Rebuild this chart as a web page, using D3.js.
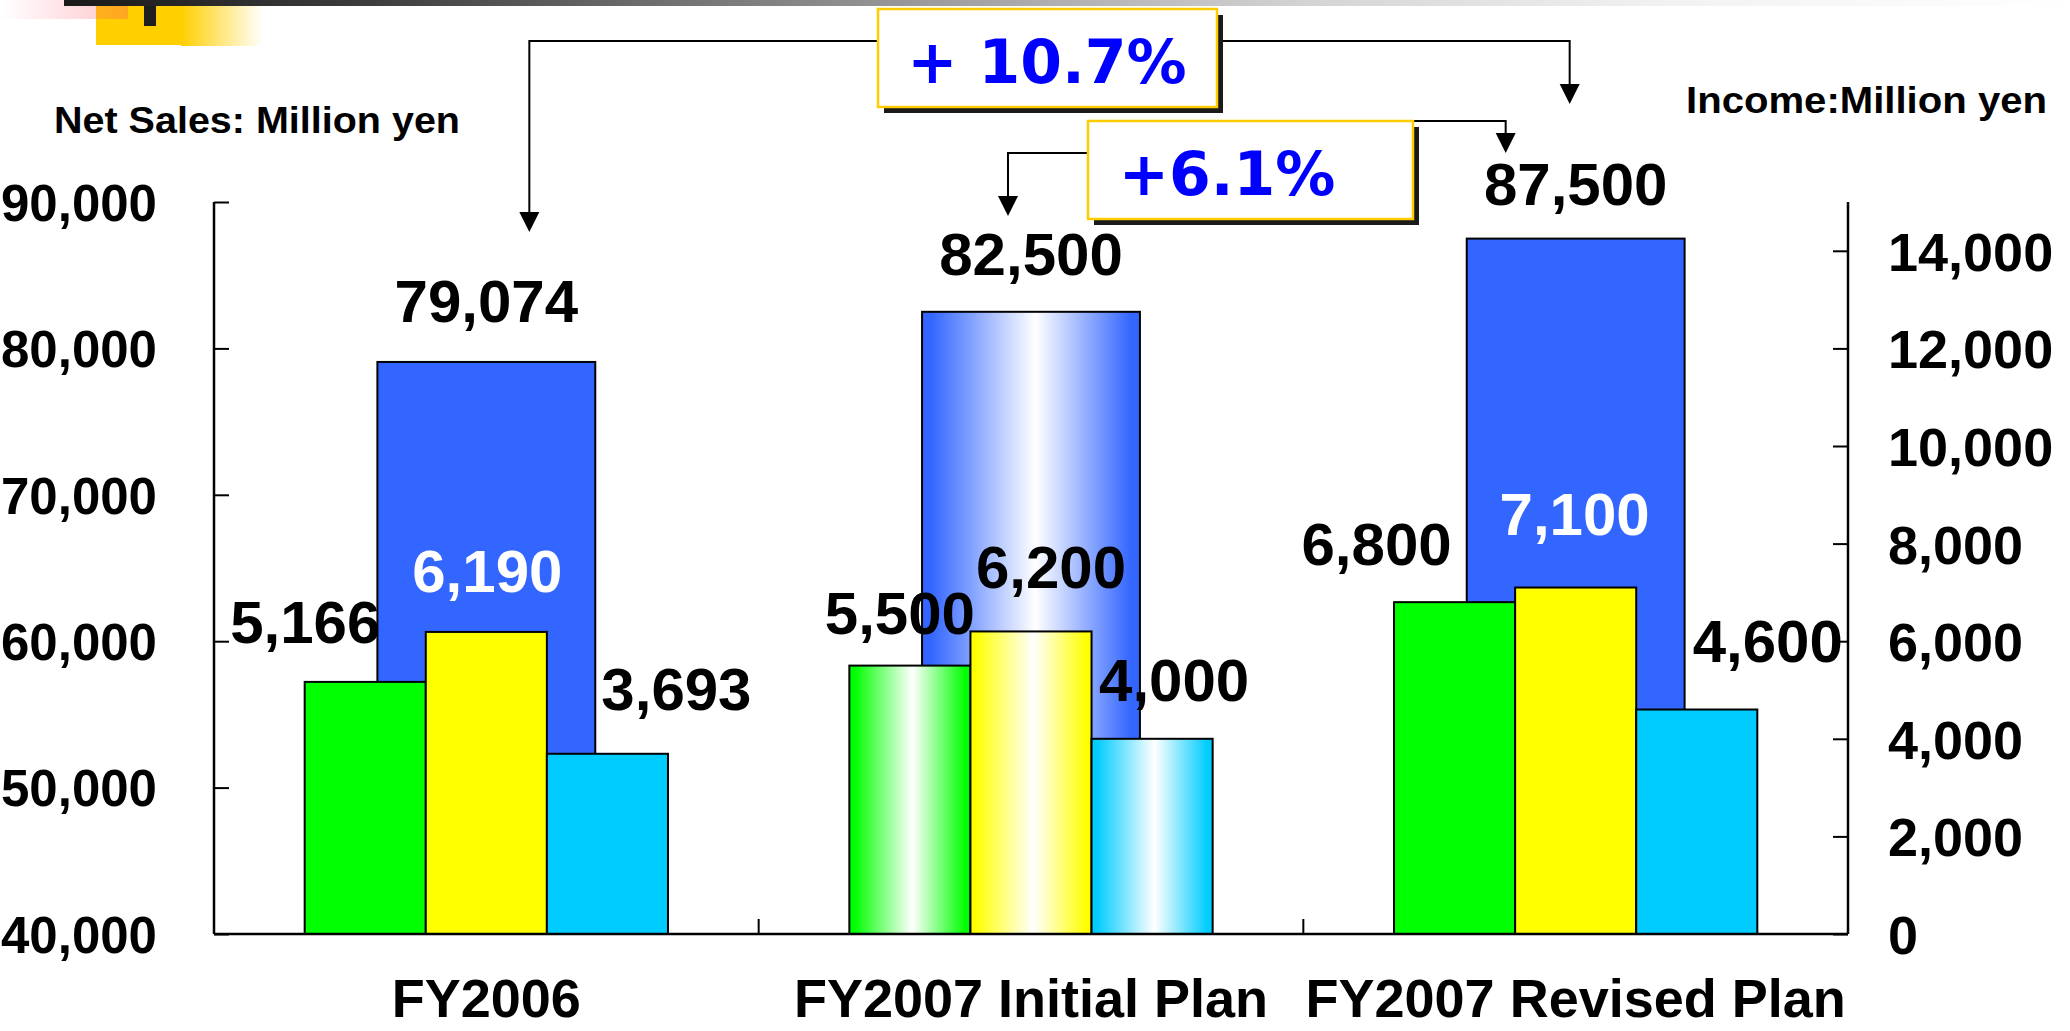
<!DOCTYPE html>
<html>
<head>
<meta charset="utf-8">
<script src="https://cdn.jsdelivr.net/npm/d3@7"></script>
<style>
  html, body { margin: 0; padding: 0; background: #ffffff; overflow: hidden; }
  svg { display: block; }
  text { font-weight: bold; }
</style>
</head>
<body>
<div id="chart"></div>
<script>
// ---------------- DATA ----------------
const categories = ["FY2006", "FY2007 Initial Plan", "FY2007 Revised Plan"];
const netSales = [79074, 82500, 87500];              // left axis (blue bars)
const incomeGreen = [5166, 5500, 6800];              // right axis
const incomeYellow = [6190, 6200, 7100];             // right axis
const incomeCyan = [3693, 4000, 4600];               // right axis
const leftTicks = [40000, 50000, 60000, 70000, 80000, 90000];
const rightTicks = [0, 2000, 4000, 6000, 8000, 10000, 12000, 14000];
const leftTitle = "Net Sales: Million yen";
const rightTitle = "Income:Million yen";
const growthLabels = ["+ 10.7%", "+6.1%"];

// ---------------- LAYOUT ----------------
const W = 2070, H = 1031;
const plot = { left: 214, right: 1848, top: 202, bottom: 934 };
const planCategory = "FY2007 Initial Plan";   // drawn with gradient fill
const colors = { blue: "#3366ff", green: "#00ff00", yellow: "#ffff00", cyan: "#00ccff" };
const SANS = '"Liberation Sans", Arial, sans-serif';
const WIDE = '"DejaVu Sans", Verdana, sans-serif';

const svg = d3.select("#chart").append("svg").attr("width", W).attr("height", H)
  .attr("font-family", SANS);
const defs = svg.append("defs");

function barGradient(id, c) {
  const g = defs.append("linearGradient").attr("id", id)
    .attr("x1", "0%").attr("x2", "100%").attr("y1", "0%").attr("y2", "0%");
  [[0, c], [0.04, c], [0.52, "#ffffff"], [0.96, c], [1, c]].forEach(([o, col]) =>
    g.append("stop").attr("offset", o).attr("stop-color", col));
}
Object.entries(colors).forEach(([k, c]) => barGradient("grad-" + k, c));

// top decoration gradients
const tb = defs.append("linearGradient").attr("id", "topbar")
  .attr("gradientUnits", "userSpaceOnUse").attr("x1", 64).attr("x2", 2070).attr("y1", 0).attr("y2", 0);
[[0, "#1a1a1a"], [0.15, "#3c3c3c"], [0.32, "#777777"], [0.47, "#a8a8a8"], [0.62, "#d4d4d4"], [0.8, "#f2f2f2"], [1, "#ffffff"]]
  .forEach(([o, c]) => tb.append("stop").attr("offset", o).attr("stop-color", c));
const yf = defs.append("linearGradient").attr("id", "yfade");
yf.append("stop").attr("offset", 0).attr("stop-color", "#ffcf00");
yf.append("stop").attr("offset", 1).attr("stop-color", "#ffffff");
const pf = defs.append("linearGradient").attr("id", "pfade");
pf.append("stop").attr("offset", 0).attr("stop-color", "#ff6080").attr("stop-opacity", 0);
pf.append("stop").attr("offset", 1).attr("stop-color", "#ff5a60").attr("stop-opacity", 0.35);

// ---- decoration (top-left logo bits + top bar) ----
svg.append("rect").attr("x", 96).attr("y", 6).attr("width", 85).attr("height", 39).attr("fill", "#ffcf00");
svg.append("rect").attr("x", 181).attr("y", 6).attr("width", 82).attr("height", 40).attr("fill", "url(#yfade)");
svg.append("rect").attr("x", 0).attr("y", 0).attr("width", 128).attr("height", 19).attr("fill", "url(#pfade)");
svg.append("rect").attr("x", 64).attr("y", 0).attr("width", W - 64).attr("height", 6).attr("fill", "url(#topbar)");
svg.append("rect").attr("x", 144).attr("y", 6).attr("width", 12).attr("height", 20).attr("fill", "#1e1e1e");

// ---------------- SCALES ----------------
const x = d3.scaleBand().domain(categories).range([plot.left, plot.right]).paddingInner(0).paddingOuter(0);
const yL = d3.scaleLinear().domain([40000, 90000]).range([plot.bottom, plot.top]);
const yR = d3.scaleLinear().domain([0, 15000]).range([plot.bottom, plot.top]);
const bw = x.bandwidth();
const blueW = bw * 0.40;
const series = ["green", "yellow", "cyan"];
const incomeData = { green: incomeGreen, yellow: incomeYellow, cyan: incomeCyan };
const xi = d3.scaleBand().domain(series).range([-bw * 0.3335, bw * 0.3335]).padding(0);
const center = c => x(c) + bw / 2;

// ---------------- BARS ----------------
const fillFor = (cat, key) => cat === planCategory ? `url(#grad-${key})` : colors[key];

svg.append("g").selectAll("rect").data(categories).join("rect")
  .attr("x", c => center(c) - blueW / 2)
  .attr("width", blueW)
  .attr("y", (c, i) => yL(netSales[i]))
  .attr("height", (c, i) => yL(40000) - yL(netSales[i]))
  .attr("fill", c => fillFor(c, "blue"))
  .attr("stroke", "#000").attr("stroke-width", 2);

series.forEach(s => {
  svg.append("g").selectAll("rect").data(categories).join("rect")
    .attr("x", c => center(c) + xi(s))
    .attr("width", xi.bandwidth())
    .attr("y", (c, i) => yR(incomeData[s][i]))
    .attr("height", (c, i) => yR(0) - yR(incomeData[s][i]))
    .attr("fill", c => fillFor(c, s))
    .attr("stroke", "#000").attr("stroke-width", 2);
});

// ---------------- AXES ----------------
const axisG = svg.append("g").attr("stroke", "#000").attr("stroke-width", 2.5);
axisG.append("line").attr("x1", plot.left).attr("x2", plot.left).attr("y1", plot.top).attr("y2", plot.bottom);
axisG.append("line").attr("x1", plot.right).attr("x2", plot.right).attr("y1", plot.top).attr("y2", plot.bottom);
axisG.append("line").attr("x1", plot.left).attr("x2", plot.right).attr("y1", plot.bottom).attr("y2", plot.bottom);

const leftAxis = d3.axisRight(yL).tickValues(leftTicks).tickSize(15).tickFormat(d3.format(","));
const gL = svg.append("g").attr("transform", `translate(${plot.left},0)`).call(leftAxis);
gL.select(".domain").remove();
gL.selectAll(".tick line").attr("stroke", "#000").attr("stroke-width", 2);
gL.selectAll(".tick text").attr("x", -57).attr("text-anchor", "end").attr("dy", "0.36em")
  .attr("font-size", 51).attr("fill", "#000").attr("font-family", SANS);

const rightAxis = d3.axisLeft(yR).tickValues(rightTicks).tickSize(15).tickFormat(d3.format(","));
const gR = svg.append("g").attr("transform", `translate(${plot.right},0)`).call(rightAxis);
gR.select(".domain").remove();
gR.selectAll(".tick line").attr("stroke", "#000").attr("stroke-width", 2);
gR.selectAll(".tick text").attr("x", 40).attr("text-anchor", "start").attr("dy", "0.36em")
  .attr("font-size", 54).attr("fill", "#000").attr("font-family", SANS);

// category separator ticks on the bottom axis
svg.append("g").selectAll("line").data(categories.slice(1)).join("line")
  .attr("x1", c => x(c)).attr("x2", c => x(c))
  .attr("y1", plot.bottom).attr("y2", plot.bottom - 15)
  .attr("stroke", "#000").attr("stroke-width", 2);

// category labels
svg.append("g").selectAll("text").data(categories).join("text")
  .attr("x", c => center(c)).attr("y", 1017)
  .attr("text-anchor", "middle").attr("font-size", 54).attr("fill", "#000")
  .text(c => c);

// axis titles
svg.append("text").attr("x", 54).attr("y", 133).attr("font-size", 36).attr("fill", "#000")
  .attr("textLength", 406).attr("lengthAdjust", "spacingAndGlyphs").text(leftTitle);
svg.append("text").attr("x", 1686).attr("y", 113).attr("font-size", 36).attr("fill", "#000")
  .attr("textLength", 361).attr("lengthAdjust", "spacingAndGlyphs").text(rightTitle);

// ---------------- VALUE LABELS ----------------
const fmt = d3.format(",");
const blueLabelDy = [-40, -37, -34];
svg.append("g").selectAll("text").data(categories).join("text")
  .attr("x", c => center(c))
  .attr("y", (c, i) => yL(netSales[i]) + blueLabelDy[i])
  .attr("text-anchor", "middle").attr("font-size", 60).attr("fill", "#000")
  .text((c, i) => fmt(netSales[i]));

// label offsets (dx from bar centre, dy from bar top), per series per category
const labelOffsets = {
  green:  [[-60, -39], [-10, -32], [-78, -37]],
  yellow: [[1, -40], [20, -43], [-1, -53]],
  cyan:   [[69, -44], [22, -38], [71, -48]]
};
series.forEach(s => {
  svg.append("g").selectAll("text").data(categories).join("text")
    .attr("x", (c, i) => center(c) + xi(s) + xi.bandwidth() / 2 + labelOffsets[s][i][0])
    .attr("y", (c, i) => yR(incomeData[s][i]) + labelOffsets[s][i][1])
    .attr("text-anchor", "middle").attr("font-size", 60)
    .attr("fill", c => (s === "yellow" && c !== planCategory) ? "#ffffff" : "#000")
    .text((c, i) => fmt(incomeData[s][i]));
});

// ---------------- GROWTH ANNOTATIONS ----------------
const ann = svg.append("g");
function arrowDown(xp, yTip) {
  ann.append("path").attr("d", `M${xp - 10},${yTip - 20}L${xp + 10},${yTip - 20}L${xp},${yTip}Z`).attr("fill", "#000");
}
function line(pts) {
  ann.append("path").attr("d", d3.line()(pts)).attr("fill", "none").attr("stroke", "#000").attr("stroke-width", 2);
}
function box(x0, y0, w, h, label, tx, ty) {
  ann.append("rect").attr("x", x0 + 6).attr("y", y0 + 6).attr("width", w).attr("height", h).attr("fill", "#1a1a1a");
  ann.append("rect").attr("x", x0).attr("y", y0).attr("width", w).attr("height", h)
    .attr("fill", "#fff").attr("stroke", "#ffcc00").attr("stroke-width", 2.5);
  ann.append("text").attr("x", tx).attr("y", ty).attr("font-size", 60).attr("fill", "#0000ff")
    .attr("font-family", WIDE).attr("text-anchor", "middle")
    .text(label);
}
// FY2006 -> Revised Plan
const a1L = center(categories[0]) + 43, a1R = center(categories[2]) - 6;
line([[a1L, 212], [a1L, 41], [878, 41]]);
line([[1217, 41], [a1R, 41], [a1R, 86]]);
arrowDown(a1L, 232);
arrowDown(a1R, 104);
box(878, 9, 339, 98, growthLabels[0], 1047, 83);
// Initial Plan -> Revised Plan
const a2L = center(categories[1]) - 23, a2R = center(categories[2]) - 70;
line([[1088, 153], [a2L, 153], [a2L, 198]]);
line([[1413, 121], [a2R, 121], [a2R, 136]]);
arrowDown(a2L, 216);
arrowDown(a2R, 153);
box(1088, 121, 325, 98, growthLabels[1], 1227, 195);
</script>
</body>
</html>
